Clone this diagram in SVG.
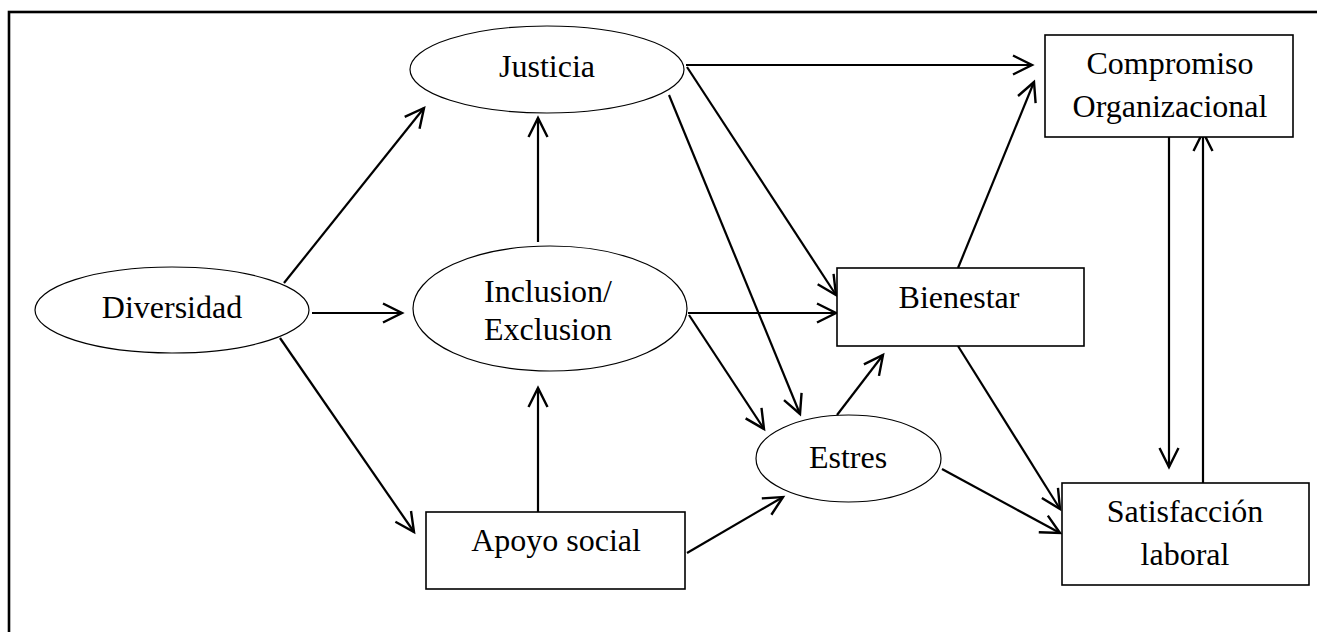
<svg xmlns="http://www.w3.org/2000/svg" width="1317" height="632" viewBox="0 0 1317 632">
<style>
.lbl{font-family:"Liberation Serif","Times New Roman",serif;font-size:32px;fill:#000;text-anchor:middle}
.ell{fill:#fff;stroke:#000;stroke-width:1.2}
.box{fill:#fff;stroke:#000;stroke-width:1.6}
.con{stroke:#000;stroke-width:2.2;fill:none;marker-end:url(#ah)}
</style>
<defs>
<marker id="ah" viewBox="-24 -12 28 24" refX="0" refY="0" markerWidth="28" markerHeight="24" markerUnits="userSpaceOnUse" orient="auto" overflow="visible">
<path d="M-19,-9.5 L0,0 L-19,9.5" fill="none" stroke="#000" stroke-width="2.4"/>
</marker>
</defs>
<rect x="0" y="0" width="1317" height="632" fill="#fff"/>
<rect id="frame" x="9" y="12" width="1330" height="650" fill="none" stroke="#000" stroke-width="2.6"/>
<g id="connectors">
<line class="con" x1="284" y1="283" x2="424" y2="108"/>
<line class="con" x1="312" y1="313" x2="402" y2="313"/>
<line class="con" x1="280" y1="338" x2="414" y2="532"/>
<line class="con" x1="538" y1="242" x2="538" y2="118"/>
<line class="con" x1="538" y1="512" x2="538" y2="388"/>
<line class="con" x1="686" y1="65" x2="1032" y2="65"/>
<line class="con" x1="687" y1="67" x2="836" y2="295"/>
<line class="con" x1="669" y1="95" x2="800" y2="414"/>
<line class="con" x1="688" y1="313" x2="836" y2="313"/>
<line class="con" x1="689" y1="315" x2="764" y2="429"/>
<line class="con" x1="687" y1="553" x2="783" y2="497"/>
<line class="con" x1="837" y1="415" x2="883" y2="355"/>
<line class="con" x1="958" y1="268" x2="1034" y2="82"/>
<line class="con" x1="958" y1="346" x2="1060" y2="509"/>
<line class="con" x1="942" y1="469" x2="1060" y2="533"/>
<line class="con" x1="1169" y1="119" x2="1169" y2="467"/>
<line class="con" x1="1203" y1="483" x2="1203" y2="132"/>
</g>
<g id="justicia">
<ellipse class="ell" cx="547" cy="69.5" rx="137" ry="43.5"/>
<text class="lbl" x="547" y="77">Justicia</text>
</g>
<g id="diversidad">
<ellipse class="ell" cx="172" cy="310" rx="137" ry="43"/>
<text class="lbl" x="172" y="318">Diversidad</text>
</g>
<g id="inclusion">
<ellipse class="ell" cx="550" cy="308.5" rx="137" ry="62.5"/>
<text class="lbl" x="548" y="302">Inclusion/</text>
<text class="lbl" x="548" y="340">Exclusion</text>
</g>
<g id="apoyo">
<rect class="box" x="426" y="512" width="259" height="77"/>
<text class="lbl" x="556" y="551">Apoyo social</text>
</g>
<g id="estres">
<ellipse class="ell" cx="848.5" cy="458.5" rx="92.5" ry="43.5"/>
<text class="lbl" x="848" y="468">Estres</text>
</g>
<g id="bienestar">
<rect class="box" x="837" y="268" width="247" height="78"/>
<text class="lbl" x="959" y="308">Bienestar</text>
</g>
<g id="compromiso">
<rect class="box" x="1045" y="35" width="248" height="102"/>
<text class="lbl" x="1170" y="74">Compromiso</text>
<text class="lbl" x="1170" y="117">Organizacional</text>
</g>
<g id="satisfaccion">
<rect class="box" x="1062" y="483" width="247" height="102"/>
<text class="lbl" x="1185" y="522">Satisfacción</text>
<text class="lbl" x="1185" y="565">laboral</text>
</g>
</svg>
